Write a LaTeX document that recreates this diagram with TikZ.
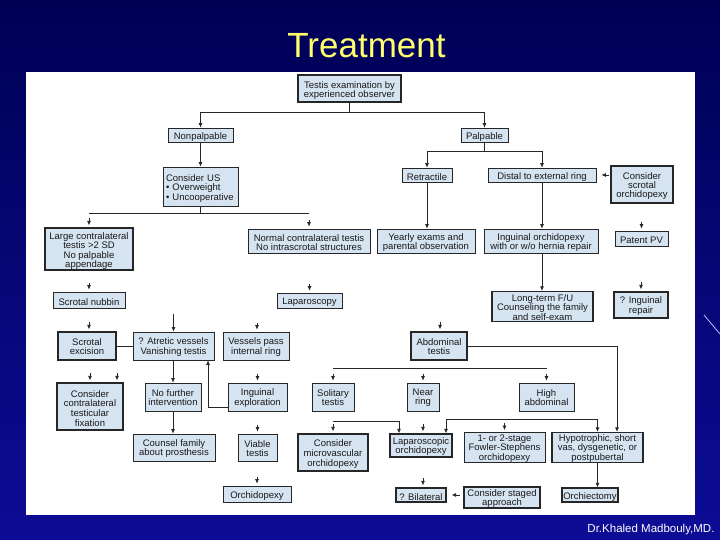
\documentclass[tikz,border=0pt]{standalone}
\usepackage{fontspec}
\setmainfont{Liberation Sans}
\usetikzlibrary{arrows.meta}
\definecolor{boxblue}{RGB}{214,228,242}
\definecolor{titleyellow}{RGB}{255,255,110}
\definecolor{bgtop}{RGB}{0,0,85}
\definecolor{bgbot}{RGB}{12,12,150}
\newcommand\bxfont{\fontsize{9.5}{9.2}\selectfont}
\tikzset{
  box/.style={draw=black!85, fill=boxblue, line width=0.65pt, inner sep=0pt},
  tbox/.style={box, line width=1.25pt},
  txt/.style={align=center, font=\bxfont, text=black!90, inner sep=0pt},
  ln/.style={line width=0.75pt, draw=black!85},
  arr/.style={ln, -{Latex[length=4.5pt,width=4pt]}},
}
% [#1 text shift] #2 style, #3 name, #4 centre, #5 width, #6 height, #7 text
\newcommand\mkbox[7][-2]{%
  \node[#2, minimum width=#5pt, minimum height=#6pt] (#3) at (#4) {};
  \node[txt] (#3-t) at ([yshift=#1pt]#3.center) {#7};}
\begin{document}
\begin{tikzpicture}[x=1pt,y=-1pt]
\useasboundingbox (0,0) rectangle (720,540);
\shade[top color=bgtop, bottom color=bgbot] (0,0) rectangle (720,540);
\draw[line width=0.8pt, color={rgb,255:red,190;green,190;blue,255}] (704,315) -- (720,334);
\fill[white] (26,72) rectangle (695,515);
\node[anchor=base, font=\fontsize{35}{40}\selectfont, text=titleyellow] (title) at (366.5,58) {Treatment};
\node[anchor=base east, font=\fontsize{11.5}{13}\selectfont, text=white] (footer) at (718,532) {Dr.Khaled Madbouly,MD.};

% nodes
\mkbox{tbox}{exam}{349.5,88.5}{103}{27}{Testis examination by\\experienced observer}
\mkbox{box}{nonpalp}{200.5,135}{65}{14}{Nonpalpable}
\mkbox{box}{palp}{484.5,135}{47}{14}{Palpable}
\node[box, minimum width=75pt, minimum height=39pt] (us) at (200.5,186.5) {};
\node[txt, text width=69pt, align=left] (us-t) at ([yshift=-2pt]us.center) {Consider US\\• Overweight\\• Uncooperative};
\mkbox{box}{retract}{427,175}{50}{14}{Retractile}
\mkbox{box}{distal}{542,175}{108}{14}{Distal to external ring}
\mkbox[-1.5]{tbox}{scrorch}{642,184.5}{62}{37}{Consider\\scrotal\\orchidopexy}
\mkbox{tbox}{large}{89,249}{88}{42}{Large contralateral\\testis >2 SD\\No palpable\\appendage}
\mkbox[-1.5]{box}{normal}{309,241}{122}{24}{Normal contralateral testis\\No intrascrotal structures}
\mkbox[-1.5]{box}{yearly}{426,241}{98}{24}{Yearly exams and\\parental observation}
\mkbox[-1.5]{box}{ingorch}{541,241}{114}{24}{Inguinal orchidopexy\\with or w/o hernia repair}
\mkbox{box}{patent}{641.5,238.5}{53}{15}{Patent PV}
\mkbox{box}{nubbin}{89,300}{72}{16}{Scrotal nubbin}
\mkbox{box}{lap}{309.5,300.5}{65}{15}{Laparoscopy}
\mkbox[-1]{tbox}{ltfu}{542.5,306.5}{101}{30}{Long-term F/U\\Counseling the family\\and self-exam}
\mkbox[-1]{tbox}{ingrep}{641,305}{54}{26}{? Inguinal\\repair}
\mkbox[-1]{tbox}{excision}{87,346}{58}{28}{Scrotal\\excision}
\mkbox[-1]{box}{atretic}{173.5,346}{81}{28}{? Atretic vessels\\Vanishing testis}
\mkbox[-1]{box}{vessels}{256,346}{66}{28}{Vessels pass\\internal ring}
\mkbox[-1]{tbox}{abdom}{439,346}{56}{28}{Abdominal\\testis}
\node[tbox, minimum width=66pt, minimum height=47pt] (fixation) at (90,406.5) {};
\node[txt, font=\fontsize{9.5}{9.8}\selectfont] (fixation-t) at ([yshift=-2pt]fixation.center) {Consider\\contralateral\\testicular\\fixation};
\mkbox[-1]{box}{nofurther}{173,397}{56}{28}{No further\\intervention}
\mkbox[-1]{box}{explor}{257.5,397}{59}{28}{Inguinal\\exploration}
\mkbox[-1]{box}{solitary}{333,397}{42}{28}{Solitary\\testis}
\mkbox[-1]{box}{near}{423,397}{32}{28}{Near\\ring}
\mkbox[-1]{box}{high}{546.5,397}{55}{28}{High\\abdominal}
\mkbox[-1]{box}{counsel}{174,447.5}{82}{27}{Counsel family\\about prosthesis}
\mkbox[-1]{box}{viable}{257.5,447.5}{39}{27}{Viable\\testis}
\node[tbox, minimum width=70pt, minimum height=37pt] (micro) at (333,452.5) {};
\node[txt, font=\fontsize{9.5}{10}\selectfont] (micro-t) at ([yshift=-1.5pt]micro.center) {Consider\\microvascular\\orchidopexy};
\mkbox[-1]{tbox}{lapor}{421,445.5}{62}{23}{Laparoscopic\\orchidopexy}
\mkbox[-1]{box}{fowler}{504.5,447.5}{81}{30}{1- or 2-stage\\Fowler-Stephens\\orchidopexy}
\mkbox[-1]{tbox}{hypo}{597.5,447.5}{91}{30}{Hypotrophic, short\\vas, dysgenetic, or\\postpubertal}
\mkbox{box}{orchpexy}{257,494}{68}{16}{Orchidopexy}
\mkbox{tbox}{bilat}{421,495}{50}{14}{? Bilateral}
\mkbox[-1]{tbox}{staged}{502,497.5}{76}{21}{Consider staged\\approach}
\mkbox{tbox}{orchiect}{590,495}{56}{14}{Orchiectomy}

% connectors
\coordinate (j1) at (349.5,112);
\draw[ln] (exam.south) -- (j1);
\draw[arr] (j1) -| (nonpalp.north);
\draw[arr] (j1) -| (palp.north);
\draw[arr] (nonpalp) -- (us);
\coordinate (j2) at (200.5,213);
\coordinate (j2a) at (89,213);
\coordinate (j2b) at (309,213);
\draw[ln] (us.south) -- (j2);
\draw[ln] (j2a) -- (j2b);
\coordinate (j3) at (484.5,151);
\draw[ln] (palp.south) -- (j3);
\draw[arr] (j3) -| (retract.north);
\draw[arr] (j3) -| (distal.north);
\draw[arr] ([xshift=13pt]distal.east) -- ([xshift=5pt]distal.east);
\draw[arr] (retract.south) -- (retract.south |- yearly.north);
\draw[arr] (distal.south) -- (distal.south |- ingorch.north);
\draw[arr] (distal.south |- ingorch.south) -- (distal.south |- ltfu.north);
\draw[arr] ([yshift=18pt]atretic.north) -- (atretic.north);
\draw[ln] (excision.east) -- (excision.east -| atretic.west);
\draw[arr] (abdom.east) -| ([xshift=19.5pt]hypo.north);
\coordinate (h3a) at (333,368);
\coordinate (h3b) at (547,368);
\draw[ln] (h3a) -- (h3b);
\draw[arr] (atretic.south -| nofurther.north) -- (nofurther.north);
\draw[arr] ([yshift=-10pt]explor.west) -| ([xshift=34.5pt]atretic.south);
\draw[arr] (nofurther.south) -- (nofurther.south |- counsel.north);
\coordinate (h4a) at (333,421);
\draw[arr] (h4a) -| ([xshift=-22pt]lapor.north);
\coordinate (h5a) at (446,419);
\coordinate (h5b) at (597.5,419);
\draw[arr] (h5a) -- (h5a |- lapor.north);
\draw[arr] (h5a) -- (h5b) -- (hypo.north);
\draw[arr] (hypo.south) -- (hypo.south |- orchiect.north);
\draw[arr] ([xshift=13pt]bilat.east) -- ([xshift=5pt]bilat.east);

% floating arrowheads
\foreach \n/\dx in {large/0, normal/0, patent/0, ingrep/0, nubbin/0, lap/0, excision/2, vessels/1, abdom/1,
  solitary/0, near/0, high/0, fixation/0, fixation/27, explor/0, viable/0, micro/0, lapor/2, fowler/0, bilat/2, orchpexy/0}
  \draw[arr] ([xshift=\dx pt, yshift=9pt]\n.north) -- ([xshift=\dx pt, yshift=2pt]\n.north);
\end{tikzpicture}
\end{document}
